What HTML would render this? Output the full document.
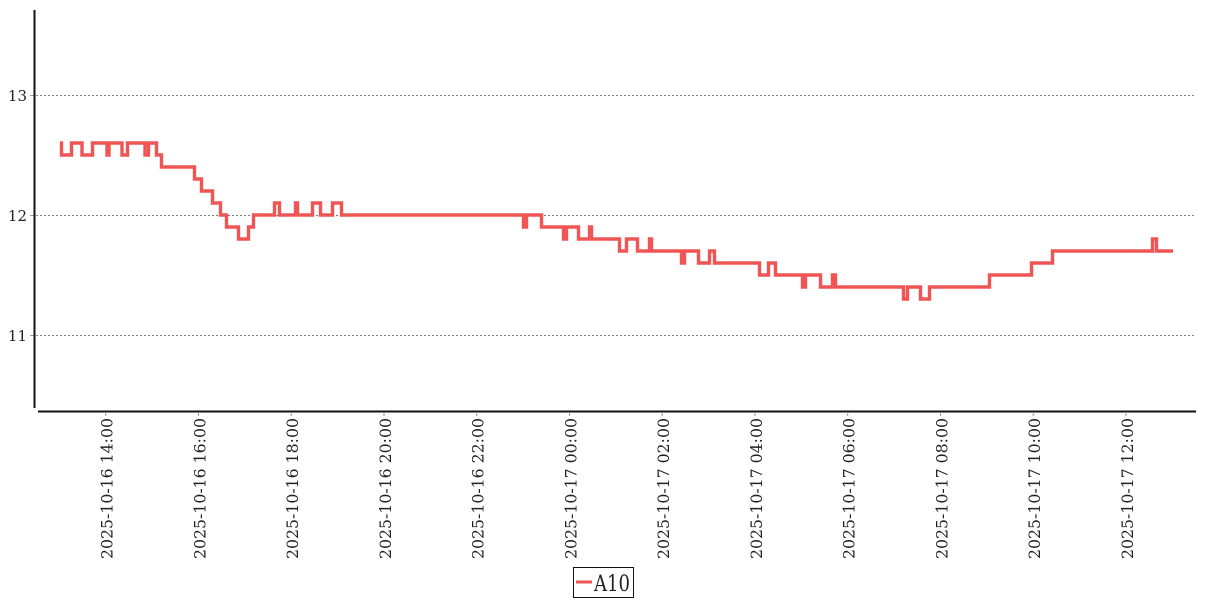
<!DOCTYPE html>
<html><head><meta charset="utf-8"><style>
html,body{margin:0;padding:0;background:#fff;}
svg{display:block;}
text{font-family:"DejaVu Serif","Liberation Serif",serif;fill:#222;}
</style></head><body>
<svg width="1207" height="600" viewBox="0 0 1207 600" xmlns="http://www.w3.org/2000/svg">
<rect width="1207" height="600" fill="#fff"/>
<g stroke="#808080" stroke-width="1" stroke-dasharray="2 2">
<line x1="36" y1="95.5" x2="1195" y2="95.5"/>
<line x1="36" y1="215.5" x2="1195" y2="215.5"/>
<line x1="36" y1="335.5" x2="1195" y2="335.5"/>
</g>
<g stroke="#999" stroke-width="1">
<line x1="30" y1="95.5" x2="34" y2="95.5"/>
<line x1="30" y1="215.5" x2="34" y2="215.5"/>
<line x1="30" y1="335.5" x2="34" y2="335.5"/>
</g>
<line x1="34.5" y1="10" x2="34.5" y2="408" stroke="#111" stroke-width="2"/>
<line x1="38" y1="411.5" x2="1196" y2="411.5" stroke="#111" stroke-width="2"/>
<g font-size="15" text-anchor="end">
<text x="27" y="101">13</text>
<text x="27" y="221">12</text>
<text x="27" y="341">11</text>
</g>
<g stroke="#999" stroke-width="1">
<line x1="105.7" y1="412" x2="105.7" y2="416"/>
<line x1="198.5" y1="412" x2="198.5" y2="416"/>
<line x1="291.2" y1="412" x2="291.2" y2="416"/>
<line x1="384" y1="412" x2="384" y2="416"/>
<line x1="476.7" y1="412" x2="476.7" y2="416"/>
<line x1="569.5" y1="412" x2="569.5" y2="416"/>
<line x1="662.2" y1="412" x2="662.2" y2="416"/>
<line x1="755" y1="412" x2="755" y2="416"/>
<line x1="847.7" y1="412" x2="847.7" y2="416"/>
<line x1="940.5" y1="412" x2="940.5" y2="416"/>
<line x1="1033.2" y1="412" x2="1033.2" y2="416"/>
<line x1="1126" y1="412" x2="1126" y2="416"/>
</g>
<g font-size="16" text-anchor="end">
<text transform="translate(112.5,418) rotate(-90)" textLength="141" lengthAdjust="spacingAndGlyphs">2025-10-16 14:00</text>
<text transform="translate(205.3,418) rotate(-90)" textLength="141" lengthAdjust="spacingAndGlyphs">2025-10-16 16:00</text>
<text transform="translate(298,418) rotate(-90)" textLength="141" lengthAdjust="spacingAndGlyphs">2025-10-16 18:00</text>
<text transform="translate(390.8,418) rotate(-90)" textLength="141" lengthAdjust="spacingAndGlyphs">2025-10-16 20:00</text>
<text transform="translate(483.5,418) rotate(-90)" textLength="141" lengthAdjust="spacingAndGlyphs">2025-10-16 22:00</text>
<text transform="translate(576.3,418) rotate(-90)" textLength="141" lengthAdjust="spacingAndGlyphs">2025-10-17 00:00</text>
<text transform="translate(669,418) rotate(-90)" textLength="141" lengthAdjust="spacingAndGlyphs">2025-10-17 02:00</text>
<text transform="translate(761.8,418) rotate(-90)" textLength="141" lengthAdjust="spacingAndGlyphs">2025-10-17 04:00</text>
<text transform="translate(854.5,418) rotate(-90)" textLength="141" lengthAdjust="spacingAndGlyphs">2025-10-17 06:00</text>
<text transform="translate(947.3,418) rotate(-90)" textLength="141" lengthAdjust="spacingAndGlyphs">2025-10-17 08:00</text>
<text transform="translate(1040,418) rotate(-90)" textLength="141" lengthAdjust="spacingAndGlyphs">2025-10-17 10:00</text>
<text transform="translate(1132.8,418) rotate(-90)" textLength="141" lengthAdjust="spacingAndGlyphs">2025-10-17 12:00</text>
</g>
<path fill="none" stroke="#f05555" stroke-width="3.4" stroke-linejoin="miter" d="M60,143 H61.5 V155 H71.5 V143 H82 V155 H92.5 V143 H107 V155 H109 V143 H122 V155 H127.5 V143 H145 V155 H148.5 V143 H156.5 V155 H161.5 V167 H194.5 V179 H201.5 V191 H212.5 V203 H220.5 V215 H226.5 V227 H238.5 V239 H248.5 V227 H253.5 V215 H274.5 V203 H279.5 V215 H295.5 V203 H297.5 V215 H312.5 V203 H320.5 V215 H332.5 V203 H341.5 V215 H523.5 V227 H526.5 V215 H541.5 V227 H563.5 V239 H566.5 V227 H578.5 V239 H589.5 V227 H591.5 V239 H619.5 V251 H626.5 V239 H637.5 V251 H649.5 V239 H651.5 V251 H681.5 V263 H684.5 V251 H698.5 V263 H709.5 V251 H714.5 V263 H759.5 V275 H768.5 V263 H775.5 V275 H802.5 V287 H805.5 V275 H820.5 V287 H832.5 V275 H835.5 V287 H903.5 V299 H907.5 V287 H920.5 V299 H929.5 V287 H989.5 V275 H1031.5 V263 H1052.5 V251 H1152.5 V239 H1156.5 V251 H1173"/>
<rect x="573.5" y="567.5" width="60" height="30" fill="#fff" stroke="#111" stroke-width="1"/>
<line x1="576" y1="582" x2="592" y2="582" stroke="#f05555" stroke-width="3"/>
<text x="594" y="591" font-size="22" textLength="36" lengthAdjust="spacingAndGlyphs">A10</text>
</svg>
</body></html>
